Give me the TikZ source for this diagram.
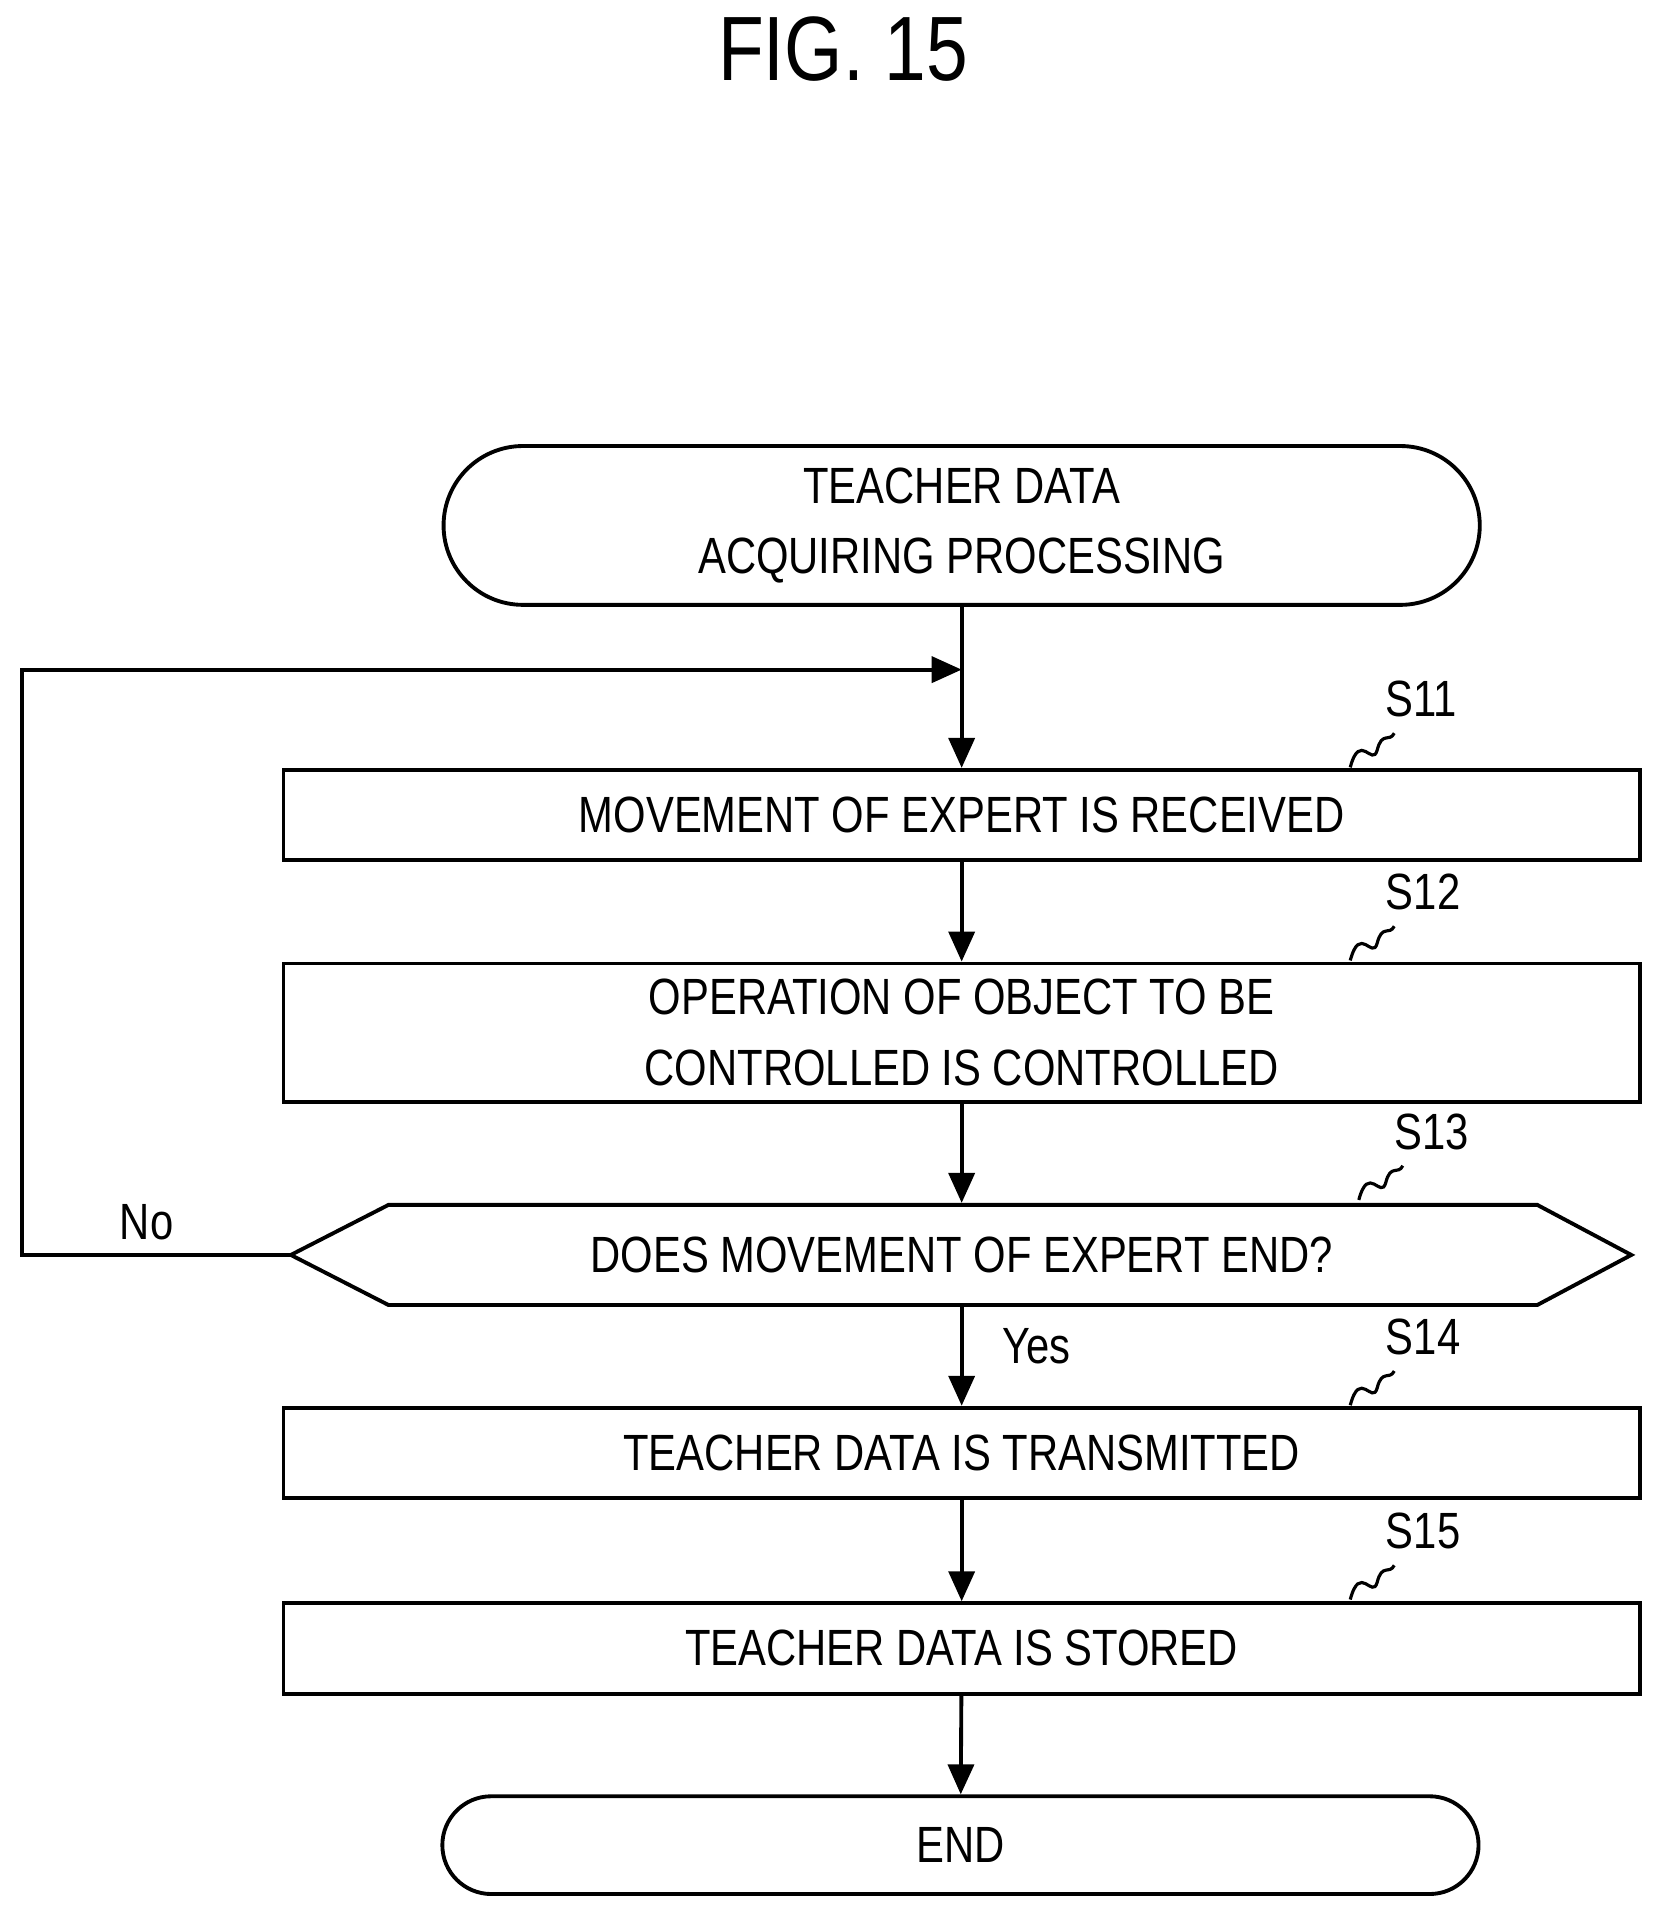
\documentclass[tikz,border=0pt]{standalone}
\usepackage{fontspec}
\setmainfont{Liberation Sans}[FakeStretch=0.82]
\usetikzlibrary{arrows.meta}
\begin{document}
\begin{tikzpicture}[x=0.1222mm,y=-0.1222mm,
    line width=1.1pt, >={Triangle[length=3mm,width=2.6mm]},
    box/.style={draw, minimum width=1110*0.1222mm, inner sep=0pt, align=center, font=\fontsize{14.5}{20}\selectfont},
    term/.style={draw, rounded corners=65*0.1222mm, minimum width=848*0.1222mm, align=center, font=\fontsize{14.5}{20}\selectfont},
    lbl/.style={font=\fontsize{14.5}{17}\selectfont}]
    \useasboundingbox (0,0) rectangle (1360,1568);
    \node[font=\fontsize{26}{30}\selectfont] (title) at (690,40) {FIG. 15};

    \node[term, minimum height=130*0.1222mm] (start) at (787,430) {TEACHER DATA\\ACQUIRING PROCESSING};
    \node[box, minimum height=74*0.1222mm] (s11) at (787,667) {MOVEMENT OF EXPERT IS RECEIVED};
    \node[box, minimum height=113*0.1222mm] (s12) at (787,845) {OPERATION OF OBJECT TO BE\\CONTROLLED IS CONTROLLED};
    \node[box, draw=none, minimum width=940*0.1222mm, minimum height=82*0.1222mm] (dec) at (787,1027) {DOES MOVEMENT OF EXPERT END?};
    \draw (238,1027) -- (318,986) -- (1258,986) -- (1335,1027) -- (1258,1068) -- (318,1068) -- cycle;
    \coordinate (decw) at (238,1027);
    \node[box, minimum height=74*0.1222mm] (s14) at (787,1189) {TEACHER DATA IS TRANSMITTED};
    \node[box, minimum height=74*0.1222mm] (s15) at (787,1349) {TEACHER DATA IS STORED};
    \node[term, minimum height=80*0.1222mm, rounded corners=40*0.1222mm] (end) at (786,1510) {END};

    % connectors
    \coordinate (join) at (787,548);
    \draw[->] (start) -- (s11);
    \draw[->] (s11) -- (s12);
    \draw[->] (s12) -- (dec);
    \draw[->] (dec) -- (s14);
    \draw[->] (s14) -- (s15);
    \draw[->] (s15) -- (end);
    \draw[->] (decw) -- (18,1027) -- (18,548) -- (join);
    \node[lbl] (no) at (120,1000) {No};
    \node[lbl] (yes) at (848,1102) {Yes};

    % step labels
    \foreach \s/\x/\y in {S11/1105/628, S12/1105/786, S13/1112/982, S14/1105/1150, S15/1105/1309} {
        \draw[line width=0.9pt] (\x,\y) .. controls (\x+8,\y-30) and (\x+18,\y) .. (\x+22,\y-14)
            .. controls (\x+26,\y-30) and (\x+32,\y-20) .. (\x+36,\y-28);
        \node[lbl, anchor=south west] at (\x+18,\y-30) {\s};
    }
\end{tikzpicture}
\end{document}
